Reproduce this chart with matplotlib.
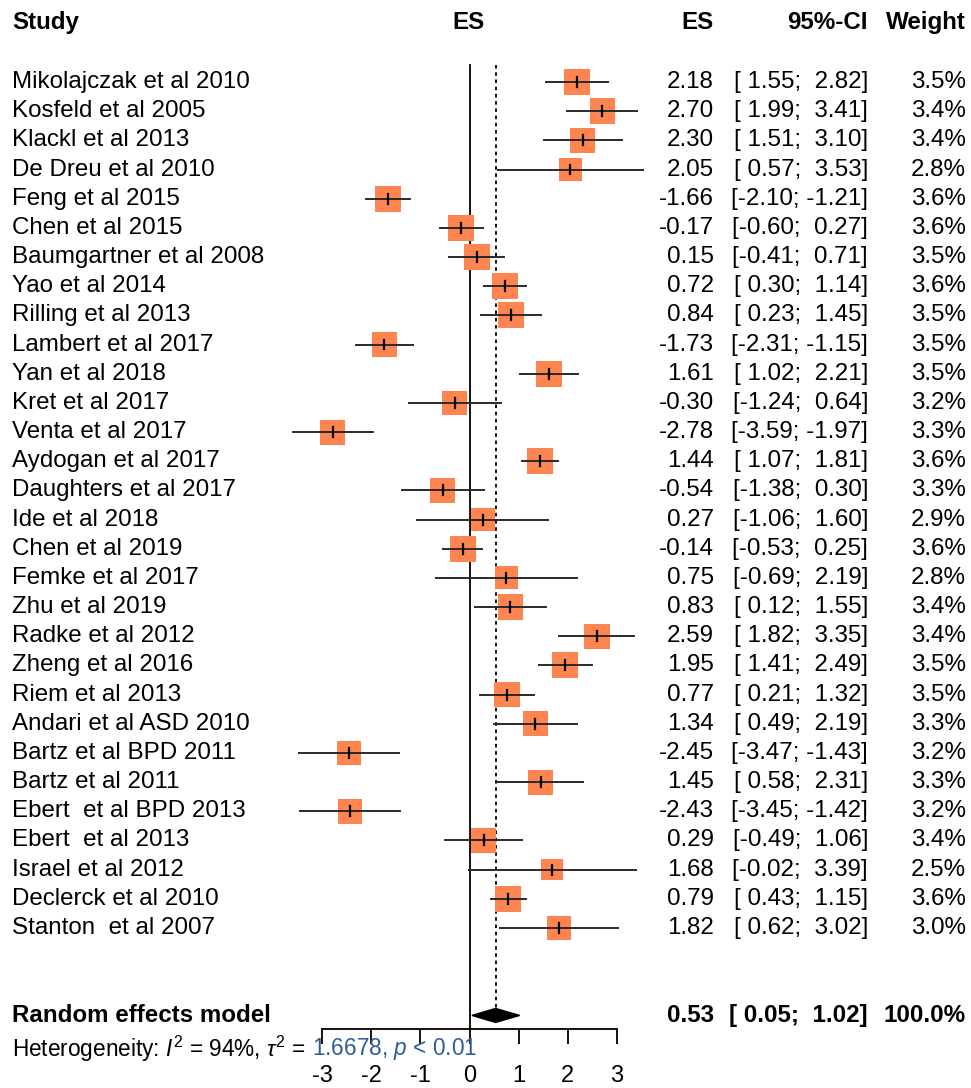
import numpy as np
import matplotlib.pyplot as plt
from matplotlib.patches import Rectangle, Polygon
import matplotlib.transforms as mtransforms

plt.rcParams['font.family'] = ['Liberation Sans', 'DejaVu Sans']
plt.rcParams['mathtext.fontset'] = 'custom'
plt.rcParams['mathtext.rm'] = 'Liberation Sans'
plt.rcParams['mathtext.it'] = 'Liberation Sans:italic'
plt.rcParams['axes.unicode_minus'] = False

studies = ["Mikolajczak et al 2010", "Kosfeld et al 2005", "Klackl et al 2013",
           "De Dreu et al 2010", "Feng et al 2015", "Chen et al 2015",
           "Baumgartner et al 2008", "Yao et al 2014", "Rilling et al 2013",
           "Lambert et al 2017", "Yan et al 2018", "Kret et al 2017",
           "Venta et al 2017", "Aydogan et al 2017", "Daughters et al 2017",
           "Ide et al 2018", "Chen et al 2019", "Femke et al 2017",
           "Zhu et al 2019", "Radke et al 2012", "Zheng et al 2016",
           "Riem et al 2013", "Andari et al ASD 2010", "Bartz et al BPD 2011",
           "Bartz et al 2011", "Ebert  et al BPD 2013", "Ebert  et al 2013",
           "Israel et al 2012", "Declerck et al 2010", "Stanton  et al 2007"]
es = [2.18, 2.70, 2.30, 2.05, -1.66, -0.17, 0.15, 0.72, 0.84, -1.73, 1.61, -0.30,
      -2.78, 1.44, -0.54, 0.27, -0.14, 0.75, 0.83, 2.59, 1.95, 0.77, 1.34, -2.45,
      1.45, -2.43, 0.29, 1.68, 0.79, 1.82]
lo = [1.55, 1.99, 1.51, 0.57, -2.10, -0.60, -0.41, 0.30, 0.23, -2.31, 1.02, -1.24,
      -3.59, 1.07, -1.38, -1.06, -0.53, -0.69, 0.12, 1.82, 1.41, 0.21, 0.49, -3.47,
      0.58, -3.45, -0.49, -0.02, 0.43, 0.62]
hi = [2.82, 3.41, 3.10, 3.53, -1.21, 0.27, 0.71, 1.14, 1.45, -1.15, 2.21, 0.64,
      -1.97, 1.81, 0.30, 1.60, 0.25, 2.19, 1.55, 3.35, 2.49, 1.32, 2.19, -1.43,
      2.31, -1.42, 1.06, 3.39, 1.15, 3.02]
weight = [3.5, 3.4, 3.4, 2.8, 3.6, 3.6, 3.5, 3.6, 3.5, 3.5, 3.5, 3.2, 3.3, 3.6, 3.3,
          2.9, 3.6, 2.8, 3.4, 3.4, 3.5, 3.5, 3.3, 3.2, 3.3, 3.2, 3.4, 2.5, 3.6, 3.0]
re_es, re_lo, re_hi = 0.53, 0.05, 1.02
het_left = r"Heterogeneity: $\mathit{I}^2$ = 94%, $\tau^2$ ="
het_right = r"1.6678, $\mathit{p}$ < 0.01"

W, H = 971, 1088
fig = plt.figure(figsize=(W / 100, H / 100), dpi=100)
x0, x1 = 322, 617          # pixel positions of -3 and 3
row0, dy = 82, 29.17        # first row pixel y and row spacing
ytop, ybot = -0.58, 32.48
ax = fig.add_axes([x0 / W, 1 - (row0 + ybot * dy) / H, (x1 - x0) / W,
                   (ybot - ytop) * dy / H])
ax.set_xlim(-3, 3)
ax.set_ylim(ybot, ytop)
for s in ['top', 'right', 'left']:
    ax.spines[s].set_visible(False)
ax.spines['bottom'].set_linewidth(1.3)
ax.set_yticks([])
ax.set_xticks(range(-3, 4))
ax.tick_params(axis='x', length=10.5, width=1.3, pad=15, labelsize=17)

px_x = (x1 - x0) / 6.0
n = len(studies)
ax.plot([0, 0], [ytop, ybot], color='black', lw=1.3, clip_on=False)
ax.plot([re_es, re_es], [ytop, 31.75], color='black', lw=1.3, ls=(0, (2, 2)), clip_on=False)

for i in range(n):
    side = 13.8 * np.sqrt(weight[i])
    ax.add_patch(Rectangle((es[i] - side / px_x / 2, i - side / dy / 2), side / px_x, side / dy,
                           facecolor='#FF8550', edgecolor='none', clip_on=False, zorder=2))
    ax.plot([lo[i], hi[i]], [i, i], color='#2a2a2a', lw=1.4, clip_on=False, zorder=3)
    ax.plot([es[i], es[i]], [i - 0.17, i + 0.17], color='black', lw=1.6, clip_on=False, zorder=3)

ym = 32.0
ax.add_patch(Polygon([(re_lo, ym), (re_es, ym - 0.24), (re_hi, ym), (re_es, ym + 0.24)],
                     closed=True, facecolor='black', edgecolor='black', clip_on=False, zorder=3))

tr = mtransforms.blended_transform_factory(fig.transFigure, ax.transData)
fs = 17.4
hy = (22 - row0) / dy
ax.text(12 / W, hy, "Study", transform=tr, fontsize=fs, fontweight='bold', va='center', ha='left')
ax.text(468 / W, hy, "ES", transform=tr, fontsize=fs, fontweight='bold', va='center', ha='center')
ax.text(714 / W, hy, "ES", transform=tr, fontsize=fs, fontweight='bold', va='center', ha='right')
ax.text(868 / W, hy, "95%-CI", transform=tr, fontsize=fs, fontweight='bold', va='center', ha='right')
ax.text(966 / W, hy, "Weight", transform=tr, fontsize=fs, fontweight='bold', va='center', ha='right')

for i in range(n):
    ax.text(12 / W, i, studies[i], transform=tr, fontsize=fs, va='center', ha='left')
    ax.text(714 / W, i, "%.2f" % es[i], transform=tr, fontsize=fs, va='center', ha='right')
    ax.text(868 / W, i, "[%5.2f; %5.2f]" % (lo[i], hi[i]), transform=tr, fontsize=fs,
            va='center', ha='right')
    ax.text(966 / W, i, "%.1f%%" % weight[i], transform=tr, fontsize=fs, va='center', ha='right')

ax.text(12 / W, ym, "Random effects model", transform=tr, fontsize=fs, fontweight='bold',
        va='center', ha='left')
ax.text(714 / W, ym, "%.2f" % re_es, transform=tr, fontsize=fs, fontweight='bold', va='center', ha='right')
ax.text(868 / W, ym, "[%5.2f; %5.2f]" % (re_lo, re_hi), transform=tr, fontsize=fs,
        fontweight='bold', va='center', ha='right')
ax.text(966 / W, ym, "100.0%", transform=tr, fontsize=fs, fontweight='bold', va='center', ha='right')

hy2 = (1049 - row0) / dy
t1 = ax.text(12 / W, hy2, het_left, transform=tr, fontsize=16.3, va='center', ha='left')
fig.canvas.draw()
bb = t1.get_window_extent()
ax.text((bb.x1 + 6) / W, hy2, het_right, transform=tr, fontsize=16.3, va='center', ha='left',
        color='#2f5d9a')

fig.savefig('out.png', dpi=100)
